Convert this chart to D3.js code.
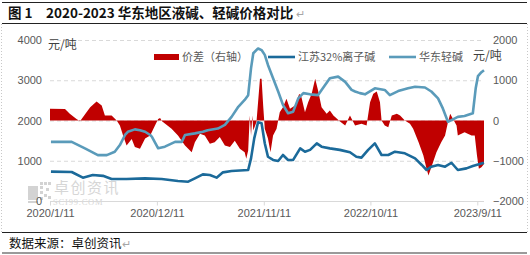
<!DOCTYPE html>
<html><head><meta charset="utf-8">
<script src="https://cdn.jsdelivr.net/npm/d3@7"></script>
<style>body{margin:0;background:#fff}svg{display:block}</style>
</head><body><svg id="c" width="530" height="255"></svg>
<script>
// ---- data ----
const xTickLabels = ["2020/1/11","2020/12/11","2021/11/11","2022/10/11","2023/9/11"];
const leftTicks = [0,1000,2000,3000,4000];
const rightTicks = [-2000,-1000,0,1000,2000];
const seriesNames = ["价差（右轴）","江苏32%离子碱","华东轻碱"];

const sodaDates = ["2020-01-14","2020-03-19","2020-05-01","2020-06-09","2020-07-07","2020-08-01","2020-08-17","2020-09-02","2020-09-11","2020-10-03","2020-10-19","2020-11-04","2020-11-20","2020-11-25","2020-12-15","2021-01-05","2021-02-06","2021-02-27","2021-03-09","2021-04-09","2021-05-04","2021-05-19","2021-06-20","2021-07-12","2021-08-02","2021-08-23","2021-09-12","2021-09-23","2021-10-02","2021-10-09","2021-10-24","2021-11-04","2021-11-14","2021-11-24","2021-12-10","2021-12-26","2022-01-10","2022-01-26","2022-02-11","2022-02-27","2022-03-15","2022-04-05","2022-04-30","2022-05-11","2022-06-06","2022-07-02","2022-07-24","2022-08-13","2022-08-24","2022-09-08","2022-09-24","2022-10-25","2022-11-25","2022-12-11","2023-01-06","2023-02-06","2023-02-28","2023-03-31","2023-04-20","2023-05-11","2023-05-26","2023-06-11","2023-06-22","2023-07-12","2023-08-02","2023-08-28","2023-09-06","2023-09-13","2023-09-24","2023-10-02"];
const sodaValues = [1470,1470,1300,1140,1140,1225,1390,1640,1720,1780,1760,1720,1640,1600,1310,1350,1470,1470,1640,1680,1720,1760,1800,1890,2090,2340,2510,2630,3300,3670,3790,3750,3630,3380,3050,2720,2390,2180,2220,2550,2680,2650,2630,2760,3050,3090,2960,2760,2720,2680,2650,2800,2760,2630,2730,2800,2840,2820,2720,2550,2300,1970,2010,2090,2110,2180,2800,3100,3200,3250];

const causticDates = ["2020-01-14","2020-03-19","2020-04-23","2020-05-24","2020-06-25","2020-07-22","2020-09-07","2020-11-04","2020-12-26","2021-02-15","2021-03-19","2021-04-09","2021-05-04","2021-05-26","2021-06-16","2021-07-06","2021-08-02","2021-09-23","2021-10-02","2021-10-12","2021-10-24","2021-11-04","2021-11-14","2021-11-24","2021-12-10","2021-12-26","2022-01-10","2022-01-26","2022-02-11","2022-03-05","2022-03-20","2022-04-05","2022-04-26","2022-05-11","2022-06-06","2022-07-07","2022-08-08","2022-08-28","2022-09-13","2022-10-04","2022-10-25","2022-11-15","2022-12-06","2022-12-27","2023-01-27","2023-02-28","2023-03-21","2023-04-05","2023-04-20","2023-05-11","2023-06-02","2023-06-22","2023-07-12","2023-08-08","2023-08-28","2023-10-02"];
const causticValues = [730,720,580,645,625,546,546,563,546,497,480,563,662,645,580,712,745,770,1060,1557,1955,1930,1433,1100,1020,995,1143,1020,1020,1308,1225,1270,1433,1350,1308,1270,1210,1100,1077,1270,1433,1143,1143,1225,1185,1060,895,770,853,895,853,950,770,810,870,953];

const spreadDates = ["2020-01-11","2020-02-27","2020-03-13","2020-04-03","2020-04-14","2020-05-01","2020-05-16","2020-06-05","2020-06-21","2020-07-01","2020-07-22","2020-08-07","2020-08-17","2020-08-27","2020-09-07","2020-09-23","2020-10-03","2020-10-19","2020-11-04","2020-11-20","2020-12-05","2020-12-15","2020-12-21","2020-12-27","2021-01-26","2021-02-15","2021-03-09","2021-03-30","2021-04-09","2021-04-25","2021-05-10","2021-05-26","2021-06-10","2021-06-26","2021-07-12","2021-07-28","2021-08-12","2021-08-28","2021-09-12","2021-09-17","2021-09-23","2021-09-28","2021-10-02","2021-10-06","2021-10-09","2021-10-19","2021-10-30","2021-11-04","2021-11-09","2021-11-14","2021-11-24","2021-12-02","2021-12-10","2021-12-21","2021-12-31","2022-01-10","2022-01-21","2022-02-01","2022-02-17","2022-03-02","2022-03-09","2022-03-20","2022-03-30","2022-04-10","2022-04-21","2022-04-30","2022-05-11","2022-05-27","2022-06-06","2022-06-17","2022-07-07","2022-07-24","2022-08-08","2022-08-24","2022-09-13","2022-09-29","2022-10-10","2022-10-20","2022-10-31","2022-11-10","2022-11-15","2022-11-25","2022-12-06","2022-12-17","2023-01-02","2023-01-12","2023-01-27","2023-02-12","2023-02-22","2023-03-11","2023-03-26","2023-04-05","2023-04-11","2023-04-20","2023-05-06","2023-05-21","2023-06-02","2023-06-10","2023-06-18","2023-06-27","2023-07-08","2023-07-12","2023-08-02","2023-08-24","2023-09-03","2023-09-10","2023-09-16","2023-09-24","2023-10-02"];
const spreadValues = [290,285,165,40,-20,165,330,470,370,124,124,0,-124,-370,-620,-460,-660,-700,-450,-370,-124,40,60,-20,-207,-370,-620,-787,-540,-330,-370,-580,-540,-410,-620,-660,-500,-700,-787,-950,-745,124,-370,124,-250,-40,1036,1036,370,-207,-450,-787,-370,-207,207,330,540,290,370,663,580,207,456,663,1036,745,330,165,250,124,-20,-124,124,-124,-80,-124,456,663,720,456,0,-124,-165,124,165,124,0,-80,-207,-540,-870,-1200,-1366,-1160,-787,-540,-370,-80,165,40,-124,-370,-290,-370,-370,-870,-1200,-1160,-1080];

// ---- chart ----
const parse = d3.timeParse("%Y-%m-%d");
const parseTick = d3.timeParse("%Y/%m/%d");
const soda = sodaDates.map((d,i)=>({date:parse(d), v:sodaValues[i]}));
const caustic = causticDates.map((d,i)=>({date:parse(d), v:causticValues[i]}));
const spread = spreadDates.map((d,i)=>({date:parse(d), v:spreadValues[i]}));

const svg = d3.select("#c");
const W=530,H=255;
const pl=50, pr=484, pt=40, pb=201;
const x = d3.scaleTime().domain([parse("2020-01-11"), parse("2023-10-02")]).range([pl,pr]);
const yL = d3.scaleLinear().domain([0,4000]).range([pb,pt]);
const yR = d3.scaleLinear().domain([-2000,2000]).range([pb,pt]);
const gray="#595959";
const tickFont="'Liberation Sans', Arial, sans-serif";
const cjk="'Noto Sans CJK SC', sans-serif";

svg.append("rect").attr("width",W).attr("height",H).attr("fill","#fff");

// frame (document table look)
svg.append("line").attr("x1",2).attr("x2",527).attr("y1",2.5).attr("y2",2.5).attr("stroke","#222").attr("stroke-width",1);
svg.append("line").attr("x1",2).attr("x2",527).attr("y1",23.5).attr("y2",23.5).attr("stroke","#222").attr("stroke-width",1);
svg.append("line").attr("x1",2).attr("x2",527).attr("y1",232.5).attr("y2",232.5).attr("stroke","#222").attr("stroke-width",1);
svg.append("line").attr("x1",2).attr("x2",527).attr("y1",253).attr("y2",253).attr("stroke","#9a9a9a").attr("stroke-width",2);
[1.5,527.5].forEach(xx=>svg.append("line").attr("x1",xx).attr("x2",xx).attr("y1",24).attr("y2",232)
  .attr("stroke","#c8c8c8").attr("stroke-width",1).attr("stroke-dasharray","1,2"));

// title
const title = svg.append("text").attr("x",8).attr("y",18).attr("font-family",cjk).attr("font-size",13.5).attr("font-weight","bold").attr("fill","#111");
title.append("tspan").text("图 1　2020-2023 华东地区液碱、轻碱价格对比");
title.append("tspan").attr("font-weight","normal").attr("fill","#a6a6a6").attr("font-size",11).attr("dx",3).text("↵");

// source
const src = svg.append("text").attr("x",9).attr("y",247.5).attr("font-family",cjk).attr("font-size",12.5).attr("fill","#111");
src.append("tspan").text("数据来源：卓创资讯");
src.append("tspan").attr("fill","#a6a6a6").attr("font-size",11).text("↵");

// gridlines
svg.append("g").selectAll("line").data(leftTicks.filter(t=>t>0)).join("line")
  .attr("x1",pl).attr("x2",pr).attr("y1",d=>yL(d)+0.5).attr("y2",d=>yL(d)+0.5)
  .attr("stroke","#d9d9d9").attr("stroke-width",1).attr("stroke-dasharray","4,3");

// watermark
const wm = svg.append("g").attr("opacity",0.55);
const sq=[[28,186,10,14],[40,182,3,3],[44,182,3,3],[48,182,3,3],[40,186,3,3],[46,188,3,3],[40,191,3,3],[44,194,3,3],[40,197,3,3],[48,196,3,3],[28,201,10,2]];
wm.selectAll("rect").data(sq).join("rect").attr("x",d=>d[0]).attr("y",d=>d[1]).attr("width",d=>d[2]).attr("height",d=>d[3]).attr("fill","#b0b0b0");
wm.append("text").attr("x",54).attr("y",193).attr("font-family",cjk).attr("font-size",15).attr("letter-spacing",1.5).attr("fill","#b5b5b5").text("卓创资讯");
wm.append("text").attr("x",53).attr("y",205).attr("font-family","'Liberation Serif', serif").attr("font-size",8.5).attr("letter-spacing",0.8).attr("fill","#b5b5b5").text("SCI99.COM");

// spread area (right axis)
svg.append("path").datum(spread)
  .attr("d", d3.area().x(d=>x(d.date)).y0(yR(0)).y1(d=>yR(d.v)).curve(d3.curveLinear))
  .attr("fill","#C00000");

// x axis
const xAx = svg.append("g").attr("transform",`translate(0,${pb+0.5})`)
  .call(d3.axisBottom(x).tickValues(xTickLabels.map(s=>parseTick(s))).tickSize(4).tickPadding(4)
    .tickFormat((d,i)=>xTickLabels[i]));
xAx.select(".domain").attr("stroke","#d9d9d9").attr("d",`M${pl},0H${pr}`);
xAx.selectAll(".tick line").attr("stroke","#d9d9d9");
xAx.selectAll("text").attr("font-family",tickFont).attr("font-size",11).attr("fill",gray);

// left axis
const lAx = svg.append("g").attr("transform",`translate(${pl},0)`)
  .call(d3.axisLeft(yL).tickValues(leftTicks).tickSize(0).tickPadding(8).tickFormat(d3.format("d")));
lAx.select(".domain").remove();
lAx.selectAll("text").attr("font-family",tickFont).attr("font-size",11).attr("fill",gray);

// right axis
const rAx = svg.append("g").attr("transform",`translate(${pr},0)`)
  .call(d3.axisRight(yR).tickValues(rightTicks).tickSize(0).tickPadding(9).tickFormat(d3.format("d")));
rAx.select(".domain").remove();
rAx.selectAll("text").attr("font-family",tickFont).attr("font-size",11).attr("fill",gray);

// lines
const line = d3.line().x(d=>x(d.date)).curve(d3.curveLinear);
svg.append("path").datum(caustic).attr("d", line.y(d=>yL(d.v)))
  .attr("fill","none").attr("stroke","#1B6A9A").attr("stroke-width",2.6).attr("stroke-linejoin","round");
svg.append("path").datum(soda).attr("d", line.y(d=>yL(d.v)))
  .attr("fill","none").attr("stroke","#5A9BBA").attr("stroke-width",2.6).attr("stroke-linejoin","round");

// unit labels
svg.append("text").attr("x",48).attr("y",49).attr("font-family",cjk).attr("font-size",12).attr("fill","#404040").text("元/吨");
svg.append("text").attr("x",473).attr("y",60).attr("font-family",cjk).attr("font-size",12).attr("fill","#404040").text("元/吨");

// legend
const lg = svg.append("g").attr("font-family",cjk).attr("font-size",11).attr("fill",gray);
lg.append("rect").attr("x",154).attr("y",54).attr("width",25).attr("height",6).attr("fill","#C00000");
lg.append("text").attr("x",182).attr("y",61).text(seriesNames[0]);
lg.append("line").attr("x1",268).attr("x2",295).attr("y1",57).attr("y2",57).attr("stroke","#1B6A9A").attr("stroke-width",2.6);
lg.append("text").attr("x",298).attr("y",61).text(seriesNames[1]);
lg.append("line").attr("x1",389).attr("x2",416).attr("y1",57).attr("y2",57).attr("stroke","#5A9BBA").attr("stroke-width",2.6);
lg.append("text").attr("x",419).attr("y",61).text(seriesNames[2]);
</script>
</body></html>
